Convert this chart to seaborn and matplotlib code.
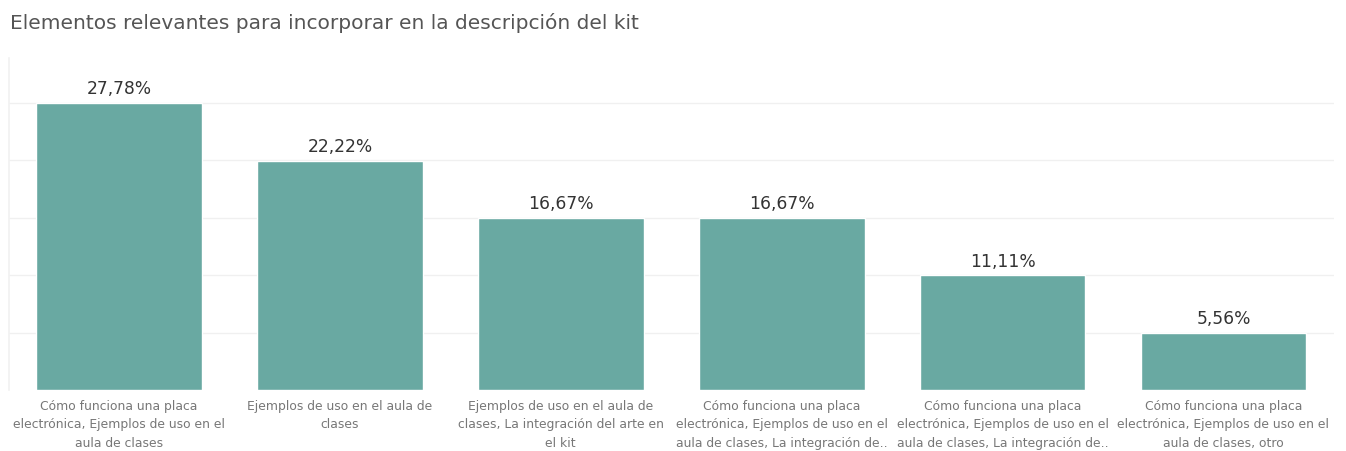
import matplotlib
matplotlib.use("Agg")
import matplotlib.pyplot as plt
import seaborn as sns
import pandas as pd

categories = [
    "Cómo funciona una placa\nelectrónica, Ejemplos de uso en el\naula de clases",
    "Ejemplos de uso en el aula de\nclases",
    "Ejemplos de uso en el aula de\nclases, La integración del arte en\nel kit",
    "Cómo funciona una placa\nelectrónica, Ejemplos de uso en el\naula de clases, La integración de..",
    "Cómo funciona una placa\nelectrónica, Ejemplos de uso en el\naula de clases, La integración de..",
    "Cómo funciona una placa\nelectrónica, Ejemplos de uso en el\naula de clases, otro",
]
values = [27.78, 22.22, 16.67, 16.67, 11.11, 5.56]
value_labels = ["27,78%", "22,22%", "16,67%", "16,67%", "11,11%", "5,56%"]
title = "Elementos relevantes para incorporar en la descripción del kit"

df = pd.DataFrame({"cat": [f"c{i}" for i in range(len(values))], "val": values})

sns.set_theme(style="white")
plt.rcParams["font.family"] = ["DejaVu Sans"]

fig = plt.figure(figsize=(13.46, 4.51), dpi=100)
ax = fig.add_axes([0.0064, 0.1353, 0.9846, 0.735])

sns.barplot(data=df, x="cat", y="val", color="#69A9A2", saturation=1,
            width=0.75, ax=ax, zorder=3)

ax.set_xlim(-0.5, len(values) - 0.5)
ax.set_ylim(0, 32.1)
step = 100 / 18
ax.set_yticks([step * k for k in range(1, 6)])
ax.yaxis.grid(True, color="#f0f0f0", linewidth=1, zorder=0)
ax.tick_params(axis="y", left=False, labelleft=False)
ax.set_ylabel("")
ax.set_xlabel("")
for s in ["top", "right", "bottom"]:
    ax.spines[s].set_visible(False)
ax.spines["left"].set_color("#f2f2f2")

ax.set_xticks(range(len(categories)))
ax.set_xticklabels(categories, fontsize=8.9, color="#777777", linespacing=1.55)
ax.tick_params(axis="x", length=0, pad=7)

for i, (v, lab) in enumerate(zip(values, value_labels)):
    ax.text(i, v + 0.45, lab, ha="center", va="bottom", fontsize=12.3,
            color="#333333")

fig.text(0.0075, 0.95, title, ha="left", va="center", fontsize=14.5,
         color="#555555")

fig.savefig("out.png", dpi=100)
